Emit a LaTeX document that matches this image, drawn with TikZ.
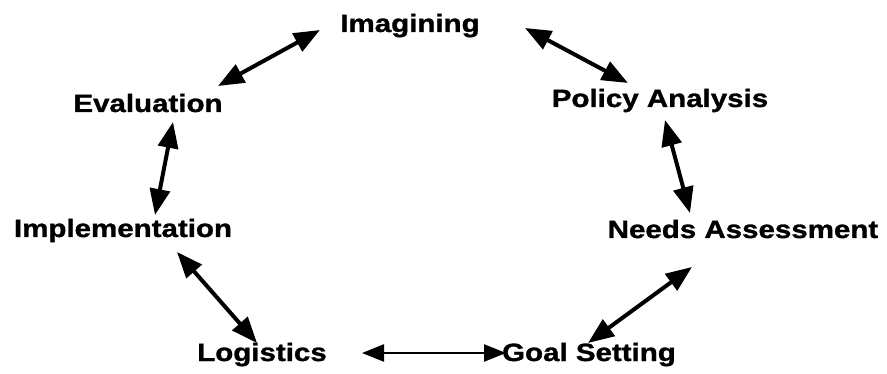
\documentclass[tikz,border=0pt]{standalone}
\usepackage{fontspec}
\newfontfamily\labfont[FakeStretch=1.18,FakeBold=1.2]{Liberation Sans}
\usetikzlibrary{arrows.meta}
\tikzset{
  lbl/.style={anchor=base, inner sep=0pt, font=\labfont\bfseries\fontsize{25}{30}\selectfont},
  dbl/.style={line width=4pt, {Triangle[length=26pt,width=20pt]}-{Triangle[length=26pt,width=20pt]}},
  thin dbl/.style={line width=2.5pt, {Triangle[length=22pt,width=17pt]}-{Triangle[length=22pt,width=17pt]}}
}
\begin{document}
\begin{tikzpicture}[x=1pt,y=-1pt]
\useasboundingbox[fill=white] (0,0) rectangle (887,374);
\node[lbl] (img) at (410,32) {Imagining};
\node[lbl] (eval) at (148,112) {Evaluation};
\node[lbl] (pol) at (660,107) {Policy Analysis};
\node[lbl] (impl) at (123,237) {Implementation};
\node[lbl] (needs) at (743,238) {Needs Assessment};
\node[lbl] (log) at (262,361) {Logistics};
\node[lbl] (goal) at (589,361) {Goal Setting};
\draw[dbl] ([shift={(70,-26)}]eval.base) -- ([shift={(-90,-2)}]img.base);
\draw[dbl] ([shift={(115,-4)}]img.base) -- ([shift={(-32,-24)}]pol.base);
\draw[dbl] ([shift={(25,10)}]eval.base) -- ([shift={(32,-22)}]impl.base);
\draw[dbl] ([shift={(54,15)}]impl.base) -- ([shift={(-5,-18)}]log.base);
\draw[thin dbl] ([shift={(100,-8)}]log.base) -- ([shift={(-83,-8)}]goal.base);
\draw[dbl] ([shift={(-1,-18)}]goal.base) -- ([shift={(-51,29)}]needs.base);
\draw[dbl] ([shift={(5,13)}]pol.base) -- ([shift={(-53,-25)}]needs.base);
\end{tikzpicture}
\end{document}
